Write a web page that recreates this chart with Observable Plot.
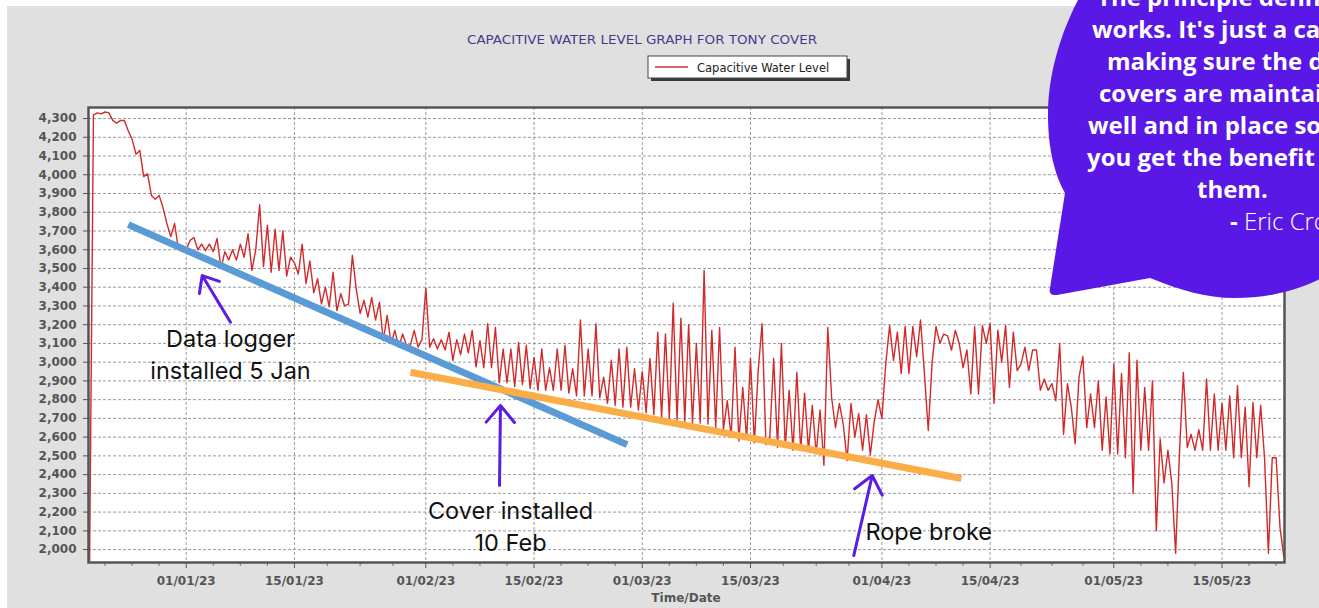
<!DOCTYPE html>
<html><head><meta charset="utf-8">
<script src="https://cdn.jsdelivr.net/npm/d3@7"></script>
<script src="https://cdn.jsdelivr.net/npm/@observablehq/plot@0.6"></script>
<style>
html,body{margin:0;padding:0;background:#fff;overflow:hidden;width:1319px;height:608px;}
#chart{position:absolute;left:0;top:0;}
</style></head><body><div id="chart"></div>
<script>
// ---- data (readings every 12 hours) ----
const firstReading = Date.UTC(2022, 11, 19, 12);
const readingStepHours = 12;
const levelsDec = [1931,4320,4330,4325,4335,4330,4290,4275,4290,4290,4235,4190,4110,4130,3990,4005,3890,3870,3890,3825,3740,3670,3740,3600,3590];
const levelsJan = [3600,3650,3665,3600,3630,3595,3630,3590,3660,3500,3590,3545,3600,3545,3630,3560,3685,3490,3600,3840,3510,3730,3480,3710,3490,3700,3460,3560,3530,3470,3630,3420,3540,3370,3445,3310,3400,3295,3480,3275,3365,3300,3310,3570,3390,3260,3330,3240,3345,3225,3320,3115,3250,3100,3170,3080,3150,3090,3090,3170,3080,3120];
const levelsFeb = [3395,3080,3125,3070,3120,3065,3160,3010,3120,3040,3150,3050,3170,2975,3115,2970,3205,2970,3185,2890,3070,2890,3070,2870,3105,2880,3090,2860,3025,2850,3070,2850,2970,2850,3070,2850,3090,2835,2965,2820,3225,2820,3070,2820,3205,2810,2920,2780,3010,2770,3070,2760,3080,2760,2965,2745];
const levelsMar = [2950,2730,3020,2720,3160,2705,3150,2700,3315,2690,3235,2685,3200,2675,3100,2675,3490,2670,3170,2650,3185,2640,2795,2600,3080,2580,2865,2590,3020,2570,2955,3205,2560,2600,3020,2545,3100,2545,2850,2530,2945,2530,2835,2530,2770,2510,2745,2450,3185,2810,2650,2780,2670,2475,2780,2600,2725,2530,2720,2505,2680,2800];
const levelsApr = [2700,2990,3195,3010,3160,2940,3190,2940,3190,3030,3225,2940,2635,3000,3190,3100,3150,3140,3065,3170,3100,2970,3065,2830,3190,2830,3195,3100,3205,2780,3170,3000,3195,2865,3160,2955,2990,3080,2955,3065,3065,2850,2910,2850,2885,2795,3100,2615,2885,2760,2565,2920,3030,2650,2830,2650,2900,2530,2815,2510];
const levelsMay = [2990,2510,2940,2490,3050,2300,3010,2530,2865,2530,2900,2100,2590,2355,2530,2355,1980,2520,2945,2545,2615,2530,2640,2530,2910,2530,2830,2530,2780,2530,2820,2490,2875,2490,2760,2335,2785,2490,2770,2490,1980,2490,2490,2120,1960];

const chartTitle = "CAPACITIVE WATER LEVEL GRAPH FOR TONY COVER";
const seriesName = "Capacitive Water Level";
const xAxisTitle = "Time/Date";
const yTickValues = [2000,2100,2200,2300,2400,2500,2600,2700,2800,2900,3000,3100,3200,3300,3400,3500,3600,3700,3800,3900,4000,4100,4200,4300];
const xTickDates = ["2023-01-01","2023-01-15","2023-02-01","2023-02-15","2023-03-01","2023-03-15","2023-04-01","2023-04-15","2023-05-01","2023-05-15"];
const xDomain = [Date.UTC(2022, 11, 19, 8, 40), Date.UTC(2023, 4, 23, 2)];
const yDomain = [1931, 4359];

// annotations (in data coordinates)
const blueTrend = [{x1: Date.UTC(2022, 11, 24, 12), y1: 3734, x2: Date.UTC(2023, 1, 27, 1), y2: 2560}];
const orangeTrend = [{x1: Date.UTC(2023, 0, 30, 0, 30), y1: 2946, x2: Date.UTC(2023, 3, 11, 7), y2: 2379}];
const noteArrows = [
  {x1: Date.UTC(2023, 0, 6, 17, 30), y1: 3213, x2: Date.UTC(2023, 0, 3, 1, 40), y2: 3462},
  {x1: Date.UTC(2023, 1, 10, 12, 45), y1: 2342, x2: Date.UTC(2023, 1, 10, 15, 50), y2: 2769},
  {x1: Date.UTC(2023, 2, 28, 8, 40), y1: 1968, x2: Date.UTC(2023, 2, 30, 18), y2: 2395}
];
const noteTextsCentered = [
  {x: Date.UTC(2023, 0, 6, 17, 30), y: 3049, text: "Data logger\ninstalled 5 Jan"},
  {x: Date.UTC(2023, 1, 11, 23), y: 2131, text: "Cover installed\n10 Feb"}
];
const noteTextsLeft = [
  {x: Date.UTC(2023, 2, 29, 21), y: 2091, text: "Rope broke"}
];
const quoteLines = ["The principle definitely", "works. It's just a case of", "making sure the dam", "covers are maintained", "well and in place so", "you get the benefit of", "them."];
const quoteAuthor = "Eric Cross";

// ---- build table ----
const allLevels = [...levelsDec, ...levelsJan, ...levelsFeb, ...levelsMar, ...levelsApr, ...levelsMay];
const readings = allLevels.map((v, i) => ({date: new Date(firstReading + i * readingStepHours * 3600e3), level: v}));
const majorDates = xTickDates.map(s => new Date(s + "T00:00:00Z"));
const dayMs = 864e5;
const minorDates = [];
for (let k = 3; k >= 1; k--) minorDates.push(new Date(+majorDates[0] - k * 3.5 * dayMs));
for (let j = 0; j < majorDates.length - 1; j++) {
  const a = +majorDates[j], b = +majorDates[j + 1];
  for (let q = 1; q < 4; q++) minorDates.push(new Date(a + (b - a) * q / 4));
}
for (let k = 1; k <= 2; k++) minorDates.push(new Date(+majorDates[majorDates.length - 1] + k * 3.5 * dayMs));

const plot = Plot.plot({
  width: 1319, height: 608,
  marginLeft: 88, marginRight: 35, marginTop: 107, marginBottom: 46,
  style: {background: "transparent", fontFamily: "DejaVu Sans", fontSize: "12px", overflow: "visible"},
  x: {type: "utc", domain: xDomain},
  y: {domain: yDomain},
  marks: [
    Plot.frame({fill: "white", stroke: null}),
    Plot.gridY(yTickValues, {stroke: "#9a9a9a", strokeOpacity: 1, strokeDasharray: "3,2"}),
    Plot.gridX(majorDates, {stroke: "#9a9a9a", strokeOpacity: 1, strokeDasharray: "3,2"}),
    Plot.axisY(yTickValues, {tickSize: 5, tickPadding: 7, tickFormat: d3.format(","), fontWeight: "bold", color: "#555", label: null}),
    Plot.axisX(majorDates, {tickSize: 6, tickPadding: 8, tickFormat: d3.utcFormat("%d/%m/%y"), fontWeight: "bold", color: "#555", label: null}),
    Plot.axisX(minorDates, {tickSize: 4, tickFormat: () => "", color: "#777", label: null}),
    Plot.line(readings, {x: "date", y: "level", stroke: "#d22a2a", strokeWidth: 1.4}),
    Plot.frame({stroke: "#555", strokeWidth: 2.5}),
    Plot.link(blueTrend, {x1: "x1", y1: "y1", x2: "x2", y2: "y2", stroke: "#5b9bd5", strokeWidth: 7, strokeLinecap: "butt"}),
    Plot.link(orangeTrend, {x1: "x1", y1: "y1", x2: "x2", y2: "y2", stroke: "#fbad47", strokeWidth: 7, strokeLinecap: "butt"}),
    Plot.arrow(noteArrows, {x1: "x1", y1: "y1", x2: "x2", y2: "y2", bend: 0, stroke: "#5a1de6", strokeWidth: 3, headLength: 11, headAngle: 80}),
    Plot.text(noteTextsCentered, {x: "x", y: "y", text: "text", fontSize: 23.5, fontFamily: "Inter", lineHeight: 1.36, fill: "#111", textAnchor: "middle"}),
    Plot.text(noteTextsLeft, {x: "x", y: "y", text: "text", fontSize: 23.5, fontFamily: "Inter", fill: "#111", textAnchor: "start"})
  ]
});

const svg = d3.select(plot);
// grey panel behind the chart
svg.insert("rect", ":first-child").attr("x", 7).attr("y", 6).attr("width", 1312).attr("height", 602).attr("fill", "#e0e0e0");

// title
svg.append("text").attr("x", 642).attr("y", 44).attr("text-anchor", "middle")
  .attr("font-family", "DejaVu Sans").attr("font-size", 12).attr("fill", "#463c8c")
  .attr("textLength", 350).attr("lengthAdjust", "spacingAndGlyphs").text(chartTitle);

// legend
const lg = svg.append("g").attr("text-anchor", "start");
lg.append("rect").attr("x", 651).attr("y", 59).attr("width", 199).attr("height", 22).attr("fill", "#3a3a3a");
lg.append("rect").attr("x", 648).attr("y", 56).attr("width", 199).attr("height", 22).attr("fill", "#fff").attr("stroke", "#444").attr("stroke-width", 1);
lg.append("line").attr("x1", 655).attr("x2", 688).attr("y1", 67).attr("y2", 67).attr("stroke", "#c83030").attr("stroke-width", 1.5);
lg.append("text").attr("x", 697).attr("y", 71.5).attr("text-anchor", "start").attr("font-family", "DejaVu Sans").attr("font-size", 11.5).attr("fill", "#222").text(seriesName);

// x axis title
svg.append("text").attr("x", 686).attr("y", 602).attr("text-anchor", "middle")
  .attr("font-family", "DejaVu Sans").attr("font-size", 12).attr("font-weight", "bold").attr("fill", "#555").text(xAxisTitle);

// speech bubble
const bubble = svg.append("g").attr("text-anchor", "start");
bubble.append("path")
  .attr("d", "M1078,0 C1060,35 1048,75 1048,115 C1048,150 1055,175 1065,193 L1050,288 Q1048,296 1057,295 L1150,278 C1180,290 1205,298 1235,298 C1265,298 1295,292 1322,278 L1322,0 Z")
  .attr("fill", "#5a18e6");
const lineStarts = [1097, 1092, 1107, 1099, 1088, 1087, 1197];
quoteLines.forEach((t, i) => {
  bubble.append("text").attr("x", lineStarts[i]).attr("y", 6 + i * 32).attr("text-anchor", "start")
    .attr("font-family", "Open Sans").attr("font-weight", "bold").attr("font-size", 24).attr("fill", "#fff").text(t);
});
const auth = bubble.append("text").attr("x", 1230).attr("y", 230).attr("text-anchor", "start").attr("font-family", "Open Sans").attr("font-size", 24).attr("fill", "#fff");
auth.append("tspan").attr("font-weight", "bold").text("- ");
auth.append("tspan").attr("font-weight", 300).text(quoteAuthor);

document.getElementById("chart").appendChild(plot);
</script>
</body></html>
